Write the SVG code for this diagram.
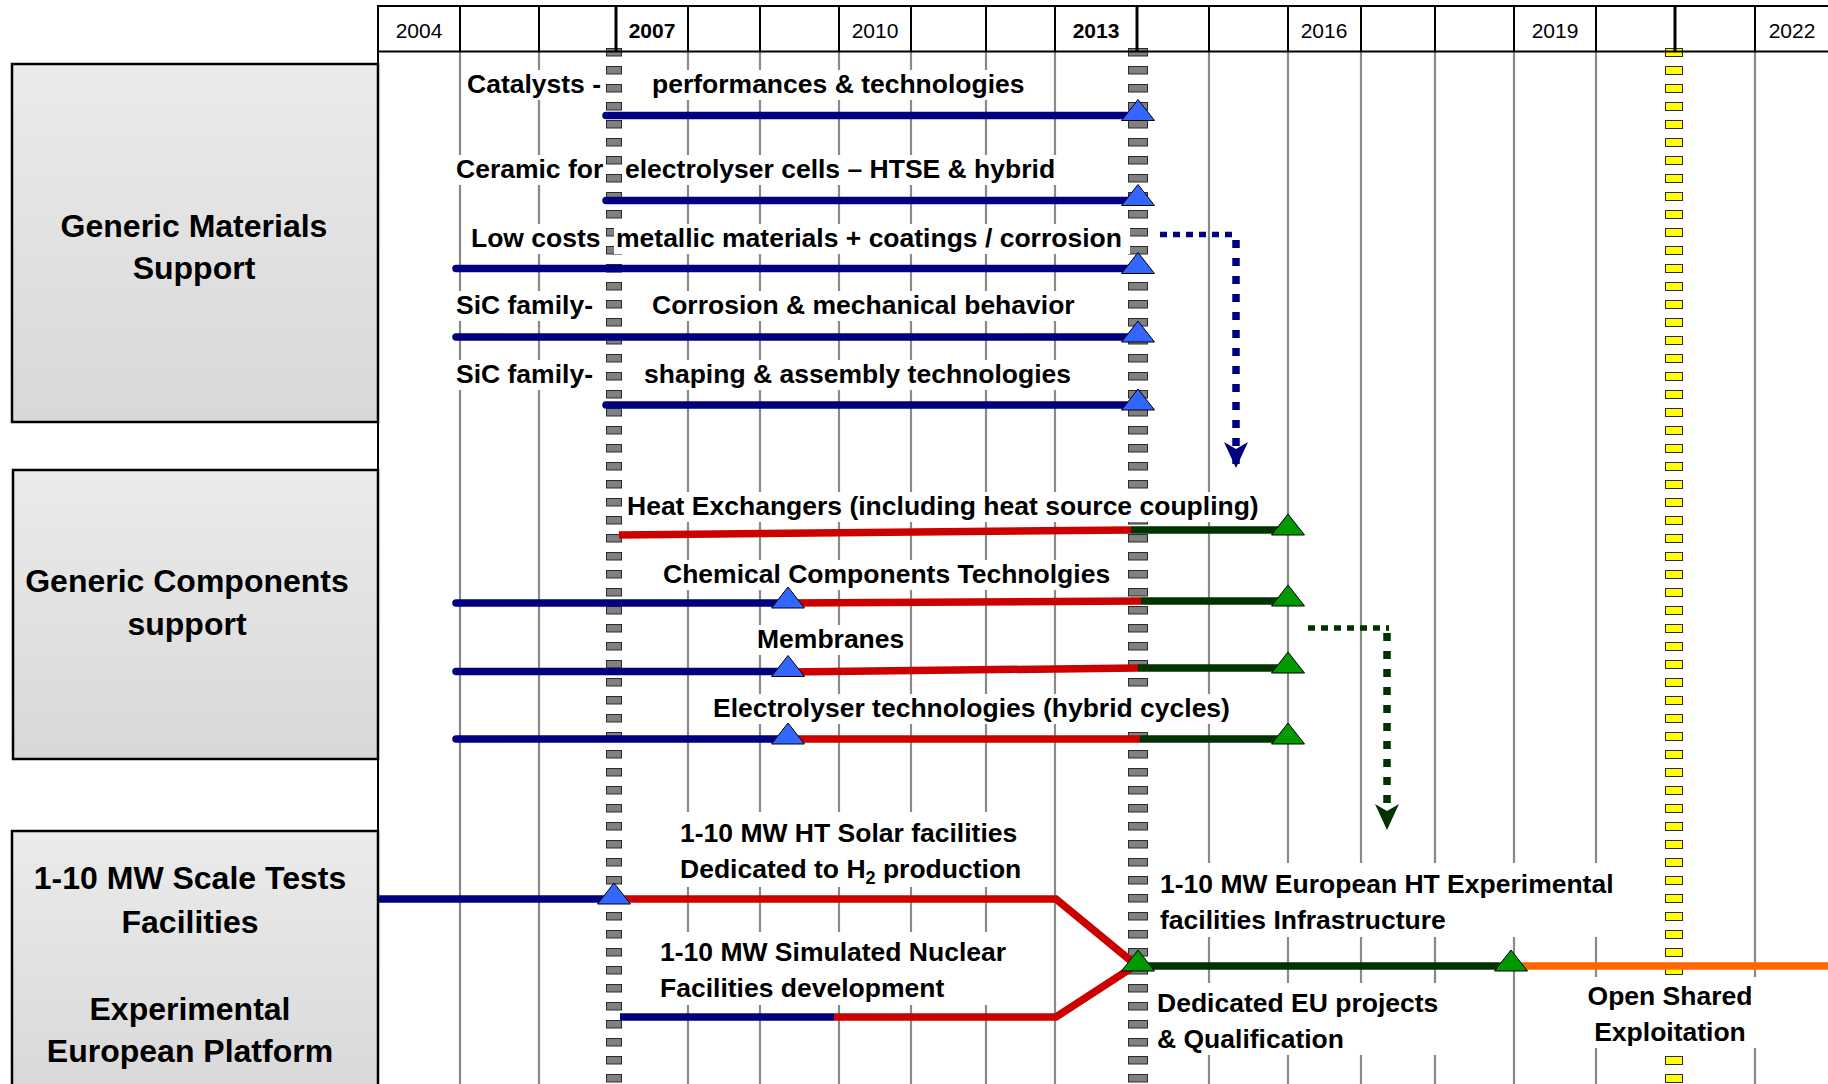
<svg xmlns="http://www.w3.org/2000/svg" width="1828" height="1084" viewBox="0 0 1828 1084">
<defs>
<linearGradient id="boxg" x1="0" y1="0" x2="0" y2="1"><stop offset="0" stop-color="#ebebeb"/><stop offset="1" stop-color="#d8d8d8"/></linearGradient>
<pattern id="gsqA" patternUnits="userSpaceOnUse" x="0" y="48" width="16" height="18"><rect x="0.5" y="0.5" width="15" height="7.5" fill="#808080" stroke="#2a2a2a" stroke-width="1"/></pattern>
<pattern id="gsqB" patternUnits="userSpaceOnUse" x="0" y="48" width="20" height="18"><rect x="0.5" y="0.5" width="19" height="7.5" fill="#808080" stroke="#2a2a2a" stroke-width="1"/></pattern>
<pattern id="ysq" patternUnits="userSpaceOnUse" x="0" y="48" width="18" height="18"><rect x="0.5" y="0.5" width="17" height="8" fill="#ffff00" stroke="#2a2a2a" stroke-width="1"/></pattern>
<path id="tri" d="M-16.5,5 L0,-16 L16.5,5 Z"/>
<marker id="arrN" markerUnits="userSpaceOnUse" viewBox="0 0 26 24" refX="26" refY="12" markerWidth="26" markerHeight="24" orient="auto"><path d="M0,0 L26,12 L0,24 L7,12 Z" fill="#000080"/></marker>
<marker id="arrG" markerUnits="userSpaceOnUse" viewBox="0 0 26 24" refX="26" refY="12" markerWidth="26" markerHeight="24" orient="auto"><path d="M0,0 L26,12 L0,24 L7,12 Z" fill="#003300"/></marker>
</defs>
<style>
.grid{stroke:#8a8a8a;stroke-width:2.2}
.hdr{stroke:#000;stroke-width:2}
.hdrb{stroke:#000;stroke-width:3}
.t{font-family:"Liberation Sans",Arial,sans-serif;font-weight:bold;font-size:26.5px;fill:#000}
.yr{font-family:"Liberation Sans",Arial,sans-serif;font-size:21px;text-anchor:middle;fill:#000}
.yrb{font-weight:bold}
.box{fill:url(#boxg);stroke:#000;stroke-width:2.5}
.bl{font-size:32px;text-anchor:middle}
.mid{text-anchor:middle}
.bg{fill:#fff}
.navy{stroke:#000080;stroke-width:7.5;fill:none;stroke-linecap:round}
.navyf{stroke:#000080;stroke-width:7.5;fill:none}
.red{stroke:#cc0000;stroke-width:7.5;fill:none}
.grn{stroke:#003300;stroke-width:7.5;fill:none}
.org{stroke:#ff6600;stroke-width:7.5;fill:none}
.dotN{stroke:#000080;fill:none}
.dotG{stroke:#003300;fill:none}
.tb{fill:#3366ff;stroke:#000;stroke-width:1}
.tg{fill:#009900;stroke:#000;stroke-width:1}
</style>
<rect x="0" y="0" width="1828" height="1084" fill="#fff"/>

<!-- grid lines -->
<g id="grid">
<line class="grid" x1="460" y1="52" x2="460" y2="1084"/>
<line class="grid" x1="539" y1="52" x2="539" y2="1084"/>
<line class="grid" x1="688" y1="52" x2="688" y2="1084"/>
<line class="grid" x1="760" y1="52" x2="760" y2="1084"/>
<line class="grid" x1="839" y1="52" x2="839" y2="1084"/>
<line class="grid" x1="911" y1="52" x2="911" y2="1084"/>
<line class="grid" x1="986" y1="52" x2="986" y2="1084"/>
<line class="grid" x1="1055" y1="52" x2="1055" y2="1084"/>
<line class="grid" x1="1209" y1="52" x2="1209" y2="1084"/>
<line class="grid" x1="1288" y1="52" x2="1288" y2="1084"/>
<line class="grid" x1="1361" y1="52" x2="1361" y2="1084"/>
<line class="grid" x1="1435" y1="52" x2="1435" y2="1084"/>
<line class="grid" x1="1514" y1="52" x2="1514" y2="1084"/>
<line class="grid" x1="1596" y1="52" x2="1596" y2="1084"/>
<line class="grid" x1="1755" y1="52" x2="1755" y2="1084"/>
</g>

<!-- milestone columns -->
<g id="milestones">
<rect x="0" y="48" width="16" height="1036" fill="url(#gsqA)" transform="translate(606,0)"/>
<rect x="0" y="48" width="20" height="1036" fill="url(#gsqB)" transform="translate(1128,0)"/>
<rect x="0" y="48" width="18" height="1036" fill="url(#ysq)" transform="translate(1665,0)"/>
</g>

<!-- header -->
<g id="header">
<line class="hdr" x1="377" y1="6" x2="1828" y2="6"/>
<line class="hdr" x1="377" y1="51.5" x2="1828" y2="51.5"/>
<line class="hdr" x1="378" y1="5" x2="378" y2="1084"/>
<line class="hdr" x1="460" y1="6" x2="460" y2="51"/>
<line class="hdr" x1="539" y1="6" x2="539" y2="51"/>
<line class="hdrb" x1="616" y1="6" x2="616" y2="51"/>
<line class="hdr" x1="688" y1="6" x2="688" y2="51"/>
<line class="hdr" x1="760" y1="6" x2="760" y2="51"/>
<line class="hdr" x1="839" y1="6" x2="839" y2="51"/>
<line class="hdr" x1="911" y1="6" x2="911" y2="51"/>
<line class="hdr" x1="986" y1="6" x2="986" y2="51"/>
<line class="hdr" x1="1055" y1="6" x2="1055" y2="51"/>
<line class="hdrb" x1="1137" y1="6" x2="1137" y2="51"/>
<line class="hdr" x1="1209" y1="6" x2="1209" y2="51"/>
<line class="hdr" x1="1288" y1="6" x2="1288" y2="51"/>
<line class="hdr" x1="1361" y1="6" x2="1361" y2="51"/>
<line class="hdr" x1="1435" y1="6" x2="1435" y2="51"/>
<line class="hdr" x1="1514" y1="6" x2="1514" y2="51"/>
<line class="hdr" x1="1596" y1="6" x2="1596" y2="51"/>
<line class="hdrb" x1="1675" y1="6" x2="1675" y2="51"/>
<line class="hdr" x1="1755" y1="6" x2="1755" y2="51"/>
<text class="yr" x="419" y="38">2004</text>
<text class="yr yrb" x="652" y="38">2007</text>
<text class="yr" x="875" y="38">2010</text>
<text class="yr yrb" x="1096" y="38">2013</text>
<text class="yr" x="1324" y="38">2016</text>
<text class="yr" x="1555" y="38">2019</text>
<text class="yr" x="1792" y="38">2022</text>
</g>

<!-- text backgrounds -->
<g id="label-bg">
<rect class="bg" x="464" y="70" width="139" height="30"/>
<rect class="bg" x="648" y="70" width="384" height="30"/>
<rect class="bg" x="453" y="155" width="152" height="30"/>
<rect class="bg" x="623" y="155" width="440" height="30"/>
<rect class="bg" x="468" y="224" width="135" height="30"/>
<rect class="bg" x="614" y="224" width="516" height="30"/>
<rect class="bg" x="453" y="291" width="143" height="30"/>
<rect class="bg" x="648" y="291" width="435" height="30"/>
<rect class="bg" x="453" y="360" width="143" height="30"/>
<rect class="bg" x="640" y="360" width="440" height="30"/>
<rect class="bg" x="623" y="492" width="650" height="30"/>
<rect class="bg" x="659" y="560" width="462" height="30"/>
<rect class="bg" x="753" y="625" width="156" height="30"/>
<rect class="bg" x="709" y="694" width="530" height="30"/>
<rect class="bg" x="676" y="812" width="352" height="75"/>
<rect class="bg" x="656" y="932" width="356" height="73"/>
<rect class="bg" x="1156" y="863" width="468" height="74"/>
<rect class="bg" x="1153" y="983" width="292" height="72"/>
<rect class="bg" x="1583" y="977" width="174" height="71"/>
</g>

<!-- category boxes -->
<g id="box-materials">
<rect class="box" x="12" y="64" width="366" height="358"/>
<text class="t bl" x="194" y="237">Generic Materials</text>
<text class="t bl" x="194" y="279">Support</text>
</g>
<g id="box-components">
<rect class="box" x="13" y="470" width="365" height="289"/>
<text class="t bl" x="187" y="592">Generic Components</text>
<text class="t bl" x="187" y="635">support</text>
</g>
<g id="box-tests">
<rect class="box" x="12" y="831" width="366" height="270"/>
<text class="t bl" x="190" y="889">1-10 MW Scale Tests</text>
<text class="t bl" x="190" y="933">Facilities</text>
<text class="t bl" x="190" y="1020">Experimental</text>
<text class="t bl" x="190" y="1062">European Platform</text>
</g>

<!-- connectors -->
<g id="connectors">
<path class="navy" d="M606,115.5 H1138"/>
<path class="navy" d="M606,200.5 H1138"/>
<path class="navy" d="M456,268.5 H1138"/>
<path class="navy" d="M456,337 H1138"/>
<path class="navy" d="M606,405 H1138"/>
<path class="red" d="M619,535 L1131,530"/>
<path class="grn" d="M1131,530 H1288"/>
<path class="navy" d="M456,603 H788"/>
<path class="red" d="M788,603 L1141,601"/>
<path class="grn" d="M1141,601 H1288"/>
<path class="navy" d="M456,671.5 H788"/>
<path class="red" d="M788,672 L1138,668"/>
<path class="grn" d="M1138,668 H1288"/>
<path class="navy" d="M456,739 H788"/>
<path class="red" d="M788,739 H1140"/>
<path class="grn" d="M1140,739 H1288"/>
<path class="navyf" d="M379,899 H614"/>
<path class="red" d="M614,899 H1056 L1136,965"/>
<path class="navyf" d="M620,1017 H834"/>
<path class="red" d="M834,1017 H1056 L1136,965"/>
<path class="grn" d="M1138,966 H1511"/>
<path class="org" d="M1511,966 H1828"/>
<path class="dotN" stroke-width="5.5" stroke-dasharray="7 6" d="M1160,234.5 H1238"/>
<path class="dotN" stroke-width="7.5" stroke-dasharray="8 10" marker-end="url(#arrN)" d="M1236,240 V468"/>
<path class="dotG" stroke-width="5.5" stroke-dasharray="7 6" d="M1308,628 H1389"/>
<path class="dotG" stroke-width="7.5" stroke-dasharray="8 10" marker-end="url(#arrG)" d="M1387,633 V830"/>
</g>

<!-- milestone triangles -->
<g id="triangles">
<use href="#tri" class="tb" x="1138" y="115.5"/>
<use href="#tri" class="tb" x="1138" y="200.5"/>
<use href="#tri" class="tb" x="1138" y="268.5"/>
<use href="#tri" class="tb" x="1138" y="337"/>
<use href="#tri" class="tb" x="1138" y="405"/>
<use href="#tri" class="tb" x="788" y="603"/>
<use href="#tri" class="tb" x="788" y="671.5"/>
<use href="#tri" class="tb" x="788" y="739"/>
<use href="#tri" class="tb" x="614" y="899"/>
<use href="#tri" class="tg" x="1288" y="530"/>
<use href="#tri" class="tg" x="1288" y="601"/>
<use href="#tri" class="tg" x="1288" y="668"/>
<use href="#tri" class="tg" x="1288" y="739"/>
<use href="#tri" class="tg" x="1138" y="966"/>
<use href="#tri" class="tg" x="1511" y="966"/>
</g>

<!-- row labels -->
<g id="row-catalysts">
<text class="t" x="467" y="93">Catalysts -</text>
<text class="t" x="652" y="93">performances &amp; technologies</text>
</g>
<g id="row-ceramic">
<text class="t" x="456" y="178">Ceramic for</text>
<text class="t" x="625" y="178">electrolyser cells – HTSE &amp; hybrid</text>
</g>
<g id="row-lowcost">
<text class="t" x="471" y="247">Low costs</text>
<text class="t" x="616" y="247">metallic materials + coatings / corrosion</text>
</g>
<g id="row-sic1">
<text class="t" x="456" y="314">SiC family-</text>
<text class="t" x="652" y="314">Corrosion &amp; mechanical behavior</text>
</g>
<g id="row-sic2">
<text class="t" x="456" y="383">SiC family-</text>
<text class="t" x="644" y="383">shaping &amp; assembly technologies</text>
</g>
<g id="row-heat">
<text class="t" x="627" y="515">Heat Exchangers (including heat source coupling)</text>
</g>
<g id="row-chem">
<text class="t" x="663" y="583">Chemical Components Technolgies</text>
</g>
<g id="row-membranes">
<text class="t" x="757" y="648">Membranes</text>
</g>
<g id="row-electrolyser">
<text class="t" x="713" y="717">Electrolyser technologies (hybrid cycles)</text>
</g>
<g id="row-solar">
<text class="t" x="680" y="842">1-10 MW HT Solar facilities</text>
<text class="t" x="680" y="878">Dedicated to H<tspan font-size="18" dy="6">2</tspan><tspan dy="-6"> production</tspan></text>
</g>
<g id="row-nuclear">
<text class="t" x="660" y="961">1-10 MW Simulated Nuclear</text>
<text class="t" x="660" y="997">Facilities development</text>
</g>
<g id="row-european">
<text class="t" x="1160" y="893">1-10 MW European HT Experimental</text>
<text class="t" x="1160" y="929">facilities Infrastructure</text>
</g>
<g id="row-dedicated">
<text class="t" x="1157" y="1012">Dedicated EU projects</text>
<text class="t" x="1157" y="1048">&amp; Qualification</text>
</g>
<g id="row-open">
<text class="t mid" x="1670" y="1005">Open Shared</text>
<text class="t mid" x="1670" y="1041">Exploitation</text>
</g>
</svg>
